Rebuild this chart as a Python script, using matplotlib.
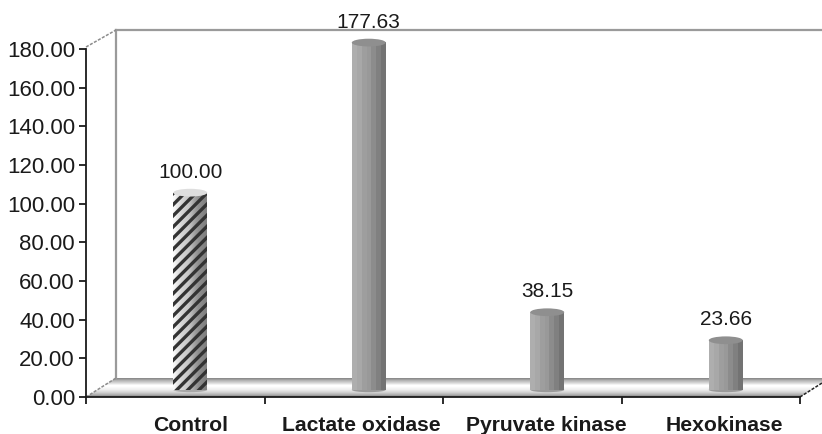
import numpy as np
import matplotlib
matplotlib.use('Agg')
import matplotlib.pyplot as plt
from matplotlib.patches import Polygon, Ellipse
from matplotlib.transforms import ScaledTranslation

plt.rcParams['font.family'] = ['Liberation Sans', 'DejaVu Sans']
plt.rcParams['hatch.linewidth'] = 2.4

categories = ['Control', 'Lactate oxidase', 'Pyruvate kinase', 'Hexokinase']
values = [100.00, 177.63, 38.15, 23.66]
y_ticks = [0, 20, 40, 60, 80, 100, 120, 140, 160, 180]
label_shift = [15, 8, 14, 14]  # px, category labels are not quite centred

W, H = 822, 434
fig = plt.figure(figsize=(W / 100, H / 100), dpi=100)

# background layer in pixel coords for the fake 3d walls and floor
bg = fig.add_axes([0, 0, 1, 1])
bg.set_xlim(0, W)
bg.set_ylim(H, 0)
bg.axis('off')

floor = Polygon([(86, 397), (116, 378), (822, 378), (822, 384), (800, 397)],
                closed=True, fc='none', ec='none')
bg.add_patch(floor)
shade = np.array([0.55, 0.62, 0.70, 0.76, 0.82, 0.88, 0.95, 1.0, 1.0, 0.98, 0.96, 0.94,
                  0.90, 0.86, 0.82, 0.76, 0.70, 0.62, 0.55]).reshape(-1, 1)
im = bg.imshow(shade, cmap='gray', vmin=0, vmax=1, extent=(86, 822, 397, 378),
               aspect='auto', interpolation='bilinear', zorder=1)
im.set_clip_path(floor)
bg.set_xlim(0, W)
bg.set_ylim(H, 0)

bg.plot([116, 116], [378, 30], color='#9a9a9a', lw=1.6, zorder=2)
bg.plot([116, 822], [30, 30], color='#9a9a9a', lw=1.6, zorder=2)
bg.plot([86, 116], [47, 30], color='#8c8c8c', lw=1.1, ls=(0, (2, 1)), zorder=2)
bg.plot([86, 116], [397, 378], color='#8c8c8c', lw=1.1, ls=(0, (2, 1)), zorder=2)
bg.plot([800, 822], [397, 383], color='#222222', lw=1.1, ls=(0, (2, 1)), zorder=2)

# chart axes, y=0 at px 397, y=180 at px 49
ax = fig.add_axes([86 / W, 1 - 397 / H, (800 - 86) / W, (397 - 49) / H])
ax.patch.set_alpha(0)
ax.set_xlim(-0.5, 3.5)
ax.set_ylim(0, 180)
for s in ['top', 'right']:
    ax.spines[s].set_visible(False)
for s in ['left', 'bottom']:
    ax.spines[s].set_color('#1a1a1a')
    ax.spines[s].set_linewidth(1.3)
ax.set_yticks(y_ticks, labels=['%.2f' % t for t in y_ticks], fontsize=16, color='#1a1a1a')
ax.set_xticks(np.arange(-0.5, 4, 1), labels=[])
ax.tick_params(axis='y', length=5, width=1.3, color='#1a1a1a', pad=3)
ax.tick_params(axis='x', length=5, width=1.3, color='#1a1a1a')

# bars sit on the floor, shifted right and up from the axis plane
shift = ax.transData + ScaledTranslation(15 / 100, 11 / 100, fig.dpi_scale_trans)
w = 0.19
ell_h = 4.0
base = -2.0
grad = np.array([0.68, 0.68, 0.66, 0.66, 0.62, 0.62, 0.60, 0.60, 0.55, 0.55, 0.50, 0.50, 0.45, 0.45]).reshape(1, -1)
grad_ctrl = np.array([0.97, 0.92, 0.88, 0.84, 0.82, 0.80, 0.78, 0.72, 0.66, 0.60, 0.56, 0.54, 0.52, 0.50]).reshape(1, -1)

for i, v in enumerate(values):
    g = grad_ctrl if i == 0 else grad
    body = ax.imshow(g, cmap='gray', vmin=0, vmax=1, aspect='auto',
                     interpolation='bilinear' if i == 0 else 'nearest',
                     extent=(i - w / 2, i + w / 2, base, v), transform=shift, zorder=3, clip_on=False)
    bot = Ellipse((i, base), w, ell_h * 0.6, fc=('#9a9a9a' if i else '#a8a8a8'), ec='none',
                  transform=shift, zorder=2.9, clip_on=False)
    ax.add_patch(bot)
    if i == 0:
        ax.bar(i, v - base, w, bottom=base, fc='none', ec='#333333', hatch='///', lw=0,
               transform=shift, zorder=4, clip_on=False)
    top = Ellipse((i, v), w, ell_h, fc=('#dedede' if i == 0 else '#8f8f8f'), ec='none',
                  transform=shift, zorder=5, clip_on=False)
    ax.add_patch(top)
    ax.annotate('%.2f' % v, (i, v), xytext=(0, 11), textcoords='offset pixels', xycoords=shift,
                ha='center', va='bottom', fontsize=15, color='#1a1a1a', annotation_clip=False, zorder=6)

ax.set_xlim(-0.5, 3.5)
ax.set_ylim(0, 180)

for i, c in enumerate(categories):
    ax.annotate(c, (i, 0), xytext=(label_shift[i], -19), textcoords='offset pixels',
                ha='center', va='top', fontsize=15.2, fontweight='bold', color='#1a1a1a',
                annotation_clip=False)

fig.savefig('out.png', dpi=100)
